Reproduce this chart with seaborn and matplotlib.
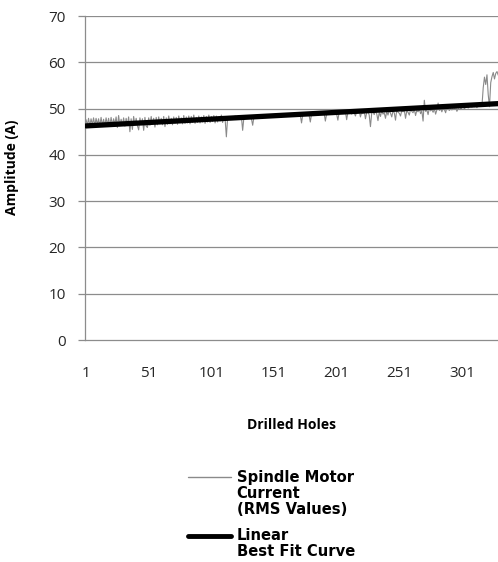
import numpy as np
import matplotlib
matplotlib.use('Agg')
import matplotlib.pyplot as plt
import seaborn as sns
from matplotlib.lines import Line2D

# spindle motor current, RMS value per drilled hole
current_rms = [
    47.6, 46.4, 47.9, 46.2, 47.8, 46.5, 48.0, 46.3, 47.9, 46.6,
    47.8, 46.2, 48.1, 46.4, 47.7, 46.3, 48.0, 46.5, 47.9, 46.2,
    48.1, 46.4, 47.8, 46.6, 48.2, 45.9, 48.5, 46.3, 47.7, 46.4,
    48.0, 46.2, 47.9, 46.5, 48.2, 45.0, 47.8, 45.5, 48.3, 46.4,
    47.9, 46.3, 45.4, 48.0, 46.5, 47.8, 45.3, 48.1, 46.2, 45.9,
    48.0, 46.4, 48.3, 46.6, 47.9, 46.0, 48.1, 46.5, 48.2, 46.7,
    47.9, 46.5, 48.3, 46.1, 48.0, 46.6, 48.4, 46.7, 47.9, 46.5,
    48.2, 46.8, 48.1, 46.6, 48.4, 46.9, 48.0, 46.7, 48.5, 46.8,
    48.2, 46.9, 48.4, 46.7, 48.3, 47.0, 48.6, 46.8, 48.1, 47.0,
    48.4, 46.9, 48.2, 47.1, 48.5, 46.8, 48.3, 47.1, 48.6, 47.0,
    48.3, 47.2, 48.5, 46.9, 48.4, 47.1, 48.2, 47.3, 48.6, 47.0,
    48.1, 47.7, 43.9, 48.0, 48.3, 48.1, 47.9, 48.2, 48.0, 48.4,
    48.1, 47.9, 48.3, 48.0, 48.2, 45.3, 48.1, 48.4, 48.0, 48.2,
    48.3, 48.1, 47.8, 46.4, 48.2, 48.0, 48.4, 48.1, 48.3, 48.2,
    48.4, 48.2, 48.5, 48.1, 48.3, 48.6, 48.2, 48.4, 48.7, 48.3,
    48.5, 48.2, 48.6, 48.4, 48.8, 48.3, 48.5, 48.7, 48.4, 48.6,
    48.8, 48.5, 48.3, 48.7, 48.9, 48.5, 48.6, 48.8, 48.4, 48.7,
    48.9, 48.6, 46.9, 48.8, 48.5, 48.9, 48.7, 49.0, 48.6, 47.1,
    48.9, 48.7, 49.1, 48.8, 48.6, 49.0, 48.8, 49.2, 48.7, 48.9,
    49.1, 47.3, 48.8, 49.0, 49.2, 48.9, 49.1, 48.7, 49.3, 49.0,
    48.8, 47.5, 49.2, 49.0, 49.3, 48.9, 49.1, 49.4, 47.6, 49.2,
    49.0, 49.3, 48.8, 49.5, 49.1, 48.4, 49.3, 49.0, 49.6, 48.2,
    49.2, 48.9, 49.5, 47.8, 49.1, 49.4, 48.6, 46.1, 49.0, 49.3,
    48.7, 49.5, 48.9, 47.4, 49.2, 48.3, 49.6, 48.8, 49.1, 47.9,
    49.4, 48.6, 49.7, 49.0, 48.2, 49.5, 49.1, 47.5, 49.8, 49.2,
    49.0, 48.4, 49.6, 49.3, 49.7, 47.9, 49.5, 49.2, 48.6, 49.8,
    49.4, 49.1, 49.9, 48.5, 49.6, 49.3, 50.0, 48.9, 49.5, 47.3,
    51.8, 49.4, 49.7, 48.7, 50.1, 49.5, 49.8, 49.2, 50.0, 48.8,
    49.7, 51.2, 49.6, 50.0, 49.3, 50.2, 49.8, 49.1, 50.3, 49.9,
    49.6, 50.1, 49.7, 50.3, 49.9, 50.4, 49.4, 50.0, 50.5, 49.8,
    50.2, 50.6, 49.9, 50.4, 50.7, 50.1, 50.5, 50.8, 50.3, 50.9,
    50.4, 50.7, 50.2, 50.9, 50.5, 51.0, 50.6, 54.5, 56.8, 55.2,
    57.3, 53.0, 50.4, 55.6, 56.9, 57.8, 56.4, 57.6, 58.0, 57.2,
]
holes = np.arange(1, len(current_rms) + 1)
x_ticks = [1, 51, 101, 151, 201, 251, 301]
y_ticks = [0, 10, 20, 30, 40, 50, 60, 70]

sns.set_style('white')
plt.rcParams['font.family'] = ['Open Sans', 'DejaVu Sans']

fig = plt.figure(figsize=(4.98, 5.62), dpi=100)
ax = fig.add_axes([0.171, 0.395, 0.829, 0.5765])

# gridlines
for yv in y_ticks[1:]:
    ax.axhline(yv, color='#8c8c8c', lw=0.9, zorder=0)

sns.lineplot(x=holes, y=current_rms, ax=ax, color='#8a8a8a', lw=0.8, zorder=2)
sns.regplot(x=holes, y=current_rms, ax=ax, scatter=False, ci=None,
            line_kws={'color': 'black', 'lw': 3.8, 'zorder': 3})

ax.set_xlim(0.3, 329.8)
ax.set_ylim(0, 70)
ax.set_xticks(x_ticks)
ax.set_yticks(y_ticks)
ax.tick_params(axis='x', length=0, pad=19, labelsize=11, labelcolor='#262626')
ax.tick_params(axis='y', left=True, length=5, width=0.9, color='#8c8c8c',
               pad=9, labelsize=11, labelcolor='#262626')

for side in ['top', 'right']:
    ax.spines[side].set_visible(False)
for side in ['left', 'bottom']:
    ax.spines[side].set_color('#8c8c8c')
    ax.spines[side].set_linewidth(0.9)

ax.set_xlabel('Drilled Holes', fontsize=10, fontweight='bold', color='black')
ax.set_ylabel('Amplitude (A)', fontsize=10, fontweight='bold', color='black')
ax.yaxis.set_label_coords(-0.16, 0.534)
ax.xaxis.set_label_coords(0.5, -0.24)

# legend: one row per text line so the keys sit on the first line
blank = Line2D([], [], color='none')
handles = [Line2D([], [], color='#8a8a8a', lw=1.0), blank, blank, blank,
           Line2D([], [], color='black', lw=3.5), blank]
labels = ['Spindle Motor', 'Current', '(RMS Values)', ' ', 'Linear', 'Best Fit Curve']
leg = fig.legend(handles, labels, loc='upper left', bbox_to_anchor=(0.3775, 0.1645),
                 bbox_transform=fig.transFigure, frameon=False, borderpad=0,
                 borderaxespad=0, handlelength=2.9, handletextpad=0.4,
                 handleheight=0.3, labelspacing=0.07,
                 prop={'family': 'DejaVu Sans', 'weight': 'bold', 'size': 10.6})
for t in leg.get_texts():
    t.set_color('black')
leg.get_texts()[3].set_fontsize(3)

fig.savefig('out.png', dpi=100)
